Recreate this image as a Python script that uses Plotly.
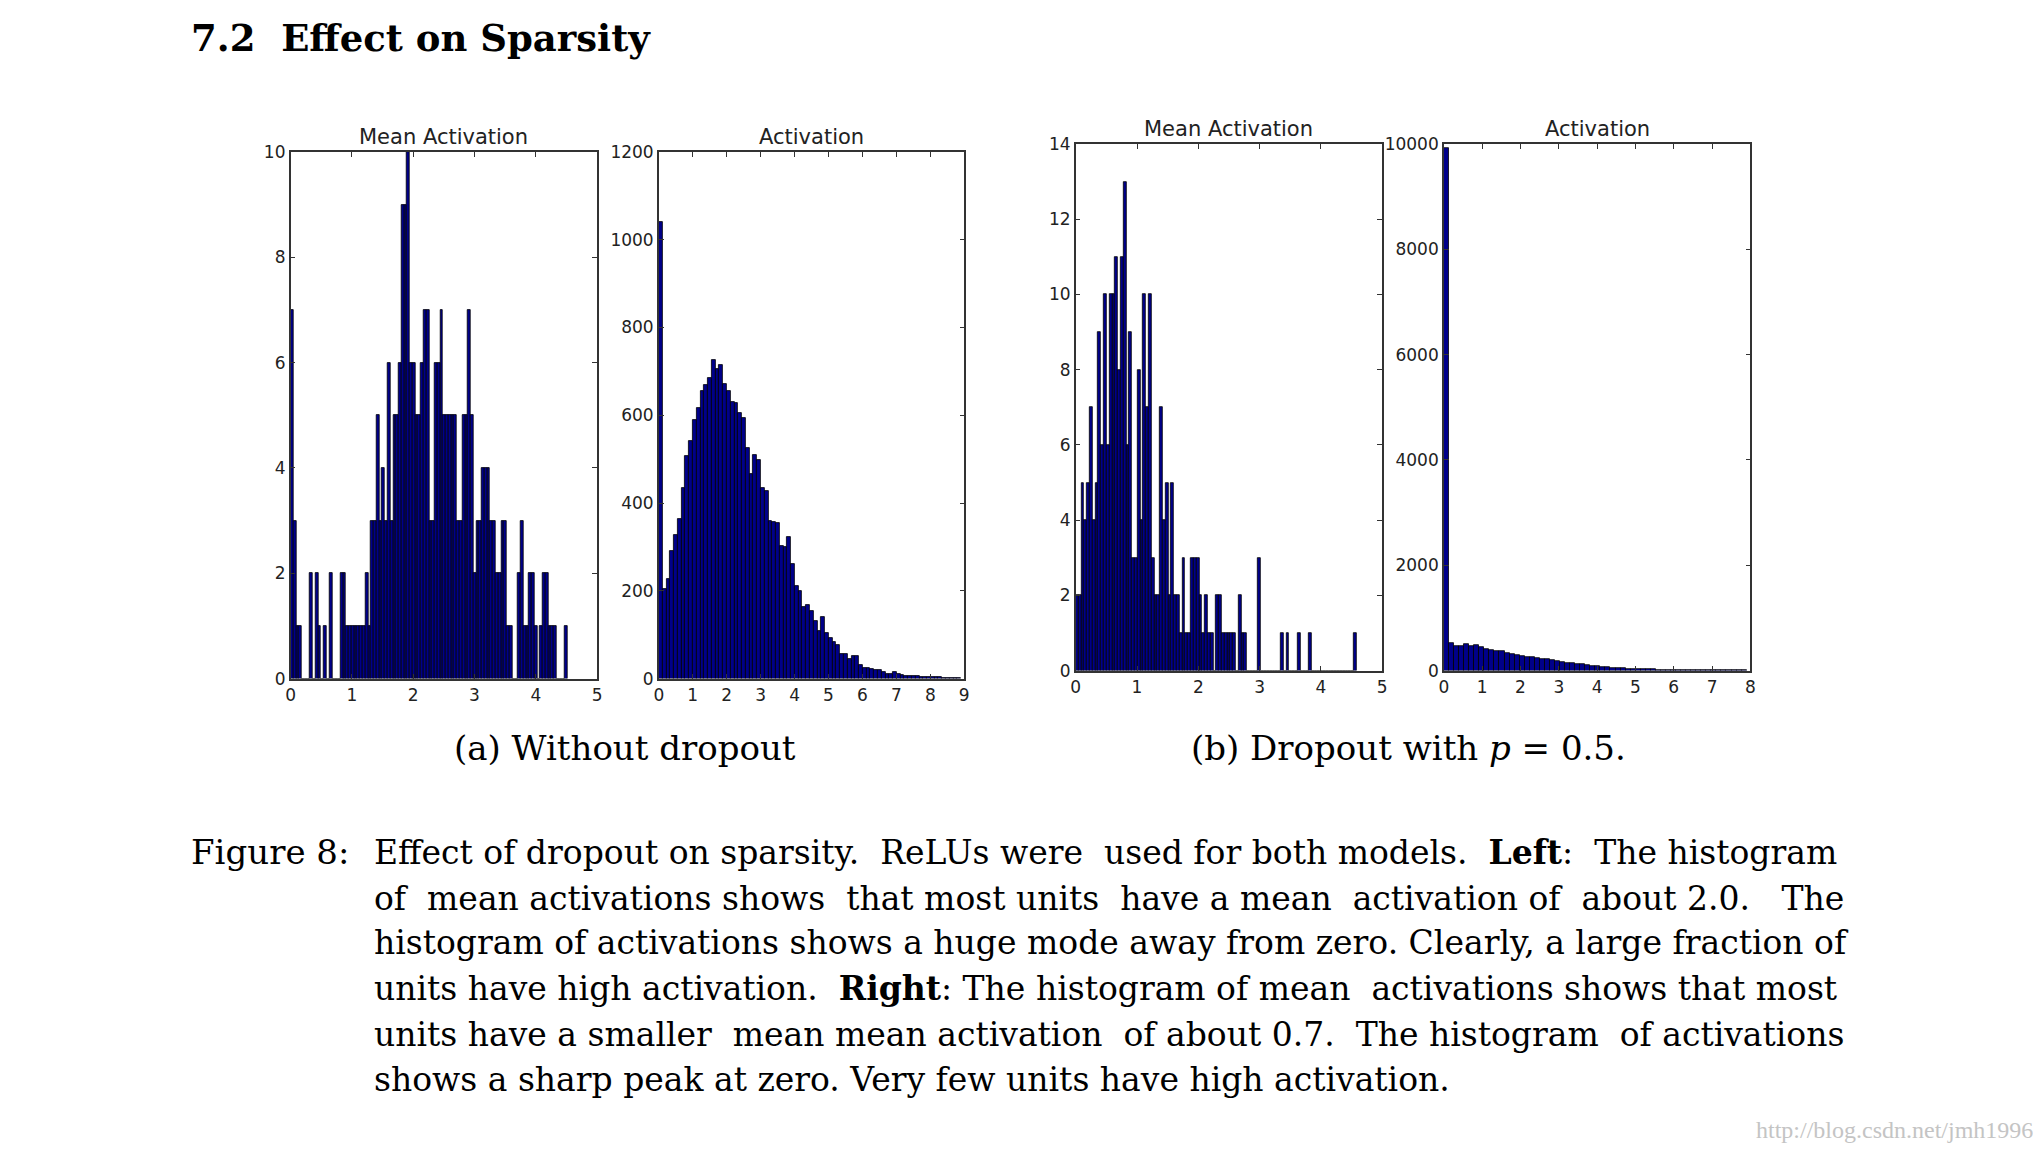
import numpy as np
import plotly.graph_objects as go

# ---------------- data (histogram counts) ----------------
# (a) without dropout - mean activation, 100 bins
MA_NODROP_RANGE = (0.0, 4.52)
MA_NODROP = [7, 3, 1, 1, 0, 0, 0, 2, 0, 2,
             1, 0, 1, 0, 2, 0, 0, 0, 2, 2,
             1, 1, 1, 1, 1, 1, 1, 2, 1, 3,
             3, 5, 3, 4, 3, 6, 3, 5, 5, 6,
             9, 9, 10, 6, 6, 5, 5, 6, 7, 7,
             3, 3, 6, 6, 7, 5, 5, 5, 5, 5,
             3, 3, 5, 5, 7, 5, 2, 3, 3, 4,
             4, 4, 3, 3, 2, 2, 3, 3, 1, 1,
             0, 0, 2, 3, 1, 1, 2, 2, 1, 0,
             1, 2, 2, 1, 1, 1, 0, 0, 0, 1]

# (a) without dropout - activation, 80 bins
ACT_NODROP_RANGE = (0.0, 8.9)
ACT_NODROP = [1041, 205, 227, 291, 327, 363, 435, 507, 542, 590,
              617, 656, 670, 686, 726, 706, 715, 672, 656, 630,
              628, 605, 594, 526, 467, 510, 498, 435, 427, 359,
              357, 355, 303, 299, 323, 261, 211, 199, 163, 167,
              155, 132, 108, 140, 104, 92, 84, 76, 56, 56,
              44, 52, 52, 32, 24, 23, 22, 20, 20, 14,
              10, 10, 14, 11, 8, 6, 6, 6, 5, 4,
              4, 4, 4, 4, 3, 2, 2, 2, 1, 1]

# (b) dropout p=0.5 - mean activation, 100 bins
MA_DROP_RANGE = (0.0, 4.58)
MA_DROP = [2, 2, 5, 4, 5, 7, 4, 5, 9, 6,
           10, 6, 10, 10, 11, 8, 11, 13, 6, 9,
           3, 3, 8, 4, 10, 7, 10, 3, 2, 2,
           7, 4, 5, 2, 5, 2, 2, 1, 3, 1,
           1, 3, 3, 3, 2, 1, 2, 1, 1, 0,
           2, 2, 1, 1, 1, 1, 1, 0, 2, 1,
           1, 0, 0, 0, 0, 3, 0, 0, 0, 0,
           0, 0, 0, 1, 0, 1, 0, 0, 0, 1,
           0, 0, 0, 1, 0, 0, 0, 0, 0, 0,
           0, 0, 0, 0, 0, 0, 0, 0, 0, 1]

# (b) dropout p=0.5 - activation, 60 bins
ACT_DROP_RANGE = (0.0, 7.9)
ACT_DROP = [9930, 516, 472, 472, 503, 459, 484, 440, 409, 396,
            377, 365, 327, 314, 302, 283, 264, 252, 233, 220,
            214, 201, 176, 170, 151, 138, 126, 132, 107, 94,
            82, 69, 69, 57, 44, 44, 38, 38, 31, 31,
            25, 25, 19, 19, 19, 13, 13, 13, 12, 12,
            12, 12, 6, 6, 6, 6, 3, 3, 3, 2]

PANEL_TITLES = ["Mean Activation", "Activation", "Mean Activation", "Activation"]
X_TICKS = [list(range(0, 6)), list(range(0, 10)), list(range(0, 6)), list(range(0, 9))]
Y_TICKS = [list(range(0, 11, 2)), list(range(0, 1201, 200)),
           list(range(0, 15, 2)), list(range(0, 10001, 2000))]

TITLE = "7.2  Effect on Sparsity"
SUBCAPTIONS = ["(a) Without dropout", "(b) Dropout with <i>p</i> = 0.5."]
FIG_LABEL = "Figure 8:"
# extra spaces approximate the justified setting of the original caption
CAPTION_LINES = [
    "Effect of dropout on sparsity.  ReLUs were  used for both models.  <b>Left</b>:  The histogram",
    "of  mean activations shows  that most units  have a mean  activation of  about 2.0.   The",
    "histogram of activations shows a huge mode away from zero. Clearly, a large fraction of",
    "units have high activation.  <b>Right</b>: The histogram of mean  activations shows that most",
    "units have a smaller  mean mean activation  of about 0.7.  The histogram  of activations",
    "shows a sharp peak at zero. Very few units have high activation.",
]
WATERMARK = "http://blog.csdn.net/jmh1996"

# ---------------- layout helpers ----------------
PAGE_W, PAGE_H = 2041, 1151
BODY_MARGIN = 8
FW, FH = PAGE_W - 2 * BODY_MARGIN, PAGE_H - 2 * BODY_MARGIN
X_SHIFT = -5          # measured render offset compensation
Y_A, Y_S = 9.2, 0.9888  # measured vertical render mapping compensation


def fx(x):
    return (x + X_SHIFT - BODY_MARGIN) / FW


def fy(y):
    yy = (y - Y_A) / Y_S
    return 1 - (yy - BODY_MARGIN) / FH


# target pixel boxes on the page (left, right, top, bottom)
BOXES = [(292, 600, 152, 682), (662, 969, 152, 682),
         (1081, 1389, 144, 674), (1451, 1759, 144, 674)]
TITLE_Y = [137, 137, 129, 129]

series = [(MA_NODROP, MA_NODROP_RANGE), (ACT_NODROP, ACT_NODROP_RANGE),
          (MA_DROP, MA_DROP_RANGE), (ACT_DROP, ACT_DROP_RANGE)]

fig = go.Figure()
layout = dict(width=FW, height=FH, margin=dict(l=0, r=0, t=0, b=0),
              paper_bgcolor="white", plot_bgcolor="white",
              showlegend=False, bargap=0)

tick_font = dict(family="DejaVu Sans", size=17, color="#222222")
annotations = []

for i, ((counts, rng), box) in enumerate(zip(series, BOXES)):
    n = i + 1
    sfx = "" if n == 1 else str(n)
    edges = np.linspace(rng[0], rng[1], len(counts) + 1)
    centers = (edges[:-1] + edges[1:]) / 2
    width = edges[1] - edges[0]
    fig.add_trace(go.Bar(
        x=centers, y=counts, width=width,
        marker=dict(color="#00008a", line=dict(color="black", width=0.8)),
        xaxis="x" + sfx, yaxis="y" + sfx, hoverinfo="skip"))
    l, r, t, b = box
    xt = X_TICKS[i]
    yt = Y_TICKS[i]
    common = dict(showline=True, linecolor="#333333", linewidth=1.5, mirror="ticks",
                  ticks="inside", ticklen=5, tickwidth=1, tickcolor="#333333",
                  showgrid=False, zeroline=False, tickfont=tick_font)
    layout["xaxis" + sfx] = dict(domain=[fx(l), fx(r)], anchor="y" + sfx,
                                 range=[xt[0], xt[-1]], tickvals=xt,
                                 ticktext=[str(v) for v in xt], **common)
    layout["yaxis" + sfx] = dict(domain=[fy(b), fy(t)], anchor="x" + sfx,
                                 range=[yt[0], yt[-1]], tickvals=yt,
                                 ticktext=[str(v) for v in yt], **common)
    annotations.append(dict(text=PANEL_TITLES[i], x=fx((l + r) / 2), y=fy(TITLE_Y[i]),
                            xref="paper", yref="paper", xanchor="center", yanchor="middle",
                            showarrow=False,
                            font=dict(family="DejaVu Sans", size=21, color="#222222")))

serif = "DejaVu Serif"
annotations.append(dict(text="<b>" + TITLE + "</b>", x=fx(190), y=fy(37), xref="paper", yref="paper",
                        xanchor="left", yanchor="middle", showarrow=False,
                        font=dict(family=serif, size=37, color="black")))
for txt, cx in zip(SUBCAPTIONS, [628, 1415]):
    annotations.append(dict(text=txt, x=fx(cx), y=fy(752), xref="paper", yref="paper",
                            xanchor="center", yanchor="middle", showarrow=False,
                            font=dict(family=serif, size=34, color="black")))
LINE_Y = [857, 903, 948, 994, 1040, 1086]
annotations.append(dict(text=FIG_LABEL, x=fx(190), y=fy(LINE_Y[0]), xref="paper", yref="paper",
                        xanchor="left", yanchor="middle", showarrow=False,
                        font=dict(family=serif, size=34, color="black")))
for txt, yy in zip(CAPTION_LINES, LINE_Y):
    annotations.append(dict(text=txt, x=fx(374), y=fy(yy), xref="paper", yref="paper",
                            xanchor="left", yanchor="middle", showarrow=False,
                            font=dict(family=serif, size=33, color="black")))
annotations.append(dict(text=WATERMARK, x=fx(2045), y=fy(1136), xref="paper", yref="paper",
                        xanchor="right", yanchor="middle", showarrow=False,
                        font=dict(family="Liberation Serif", size=24, color="#c4c4c4")))

layout["annotations"] = annotations
fig.update_layout(**layout)
fig.write_html("out.html")
